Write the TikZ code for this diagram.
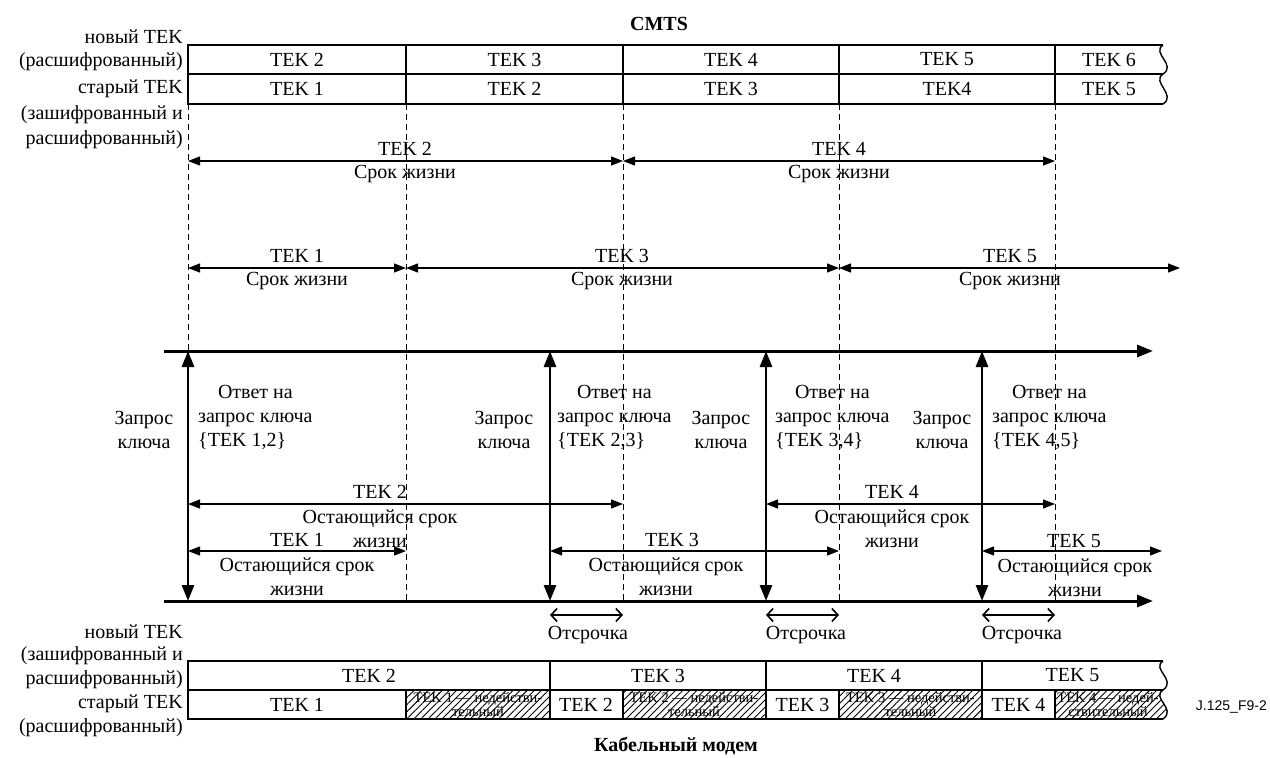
\documentclass[tikz,border=0pt]{standalone}
\usepackage{fontspec}
\setmainfont{Liberation Serif}
\newfontfamily\labelsans{Liberation Sans}
\usetikzlibrary{arrows.meta,patterns.meta}
\begin{document}
\begin{tikzpicture}[x=1pt,y=-1pt,
  lbl/.style={inner sep=0pt,font=\fontsize{20}{24}\selectfont,align=center},
  lblr/.style={lbl,anchor=east,align=right},
  tbl/.style={line width=1.4pt},
  guide/.style={line width=0.9pt,dash pattern=on 6pt off 4pt},
  life/.style={line width=1.2pt,{Triangle[length=12pt,width=9pt]}-{Triangle[length=12pt,width=9pt]}},
  timeaxis/.style={line width=3pt,-{Triangle[length=16pt,width=12pt]}},
  req/.style={line width=2.8pt,{Triangle[length=16pt,width=12pt]}-{Triangle[length=16pt,width=12pt]}},
  grace/.style={line width=1.6pt,{Straight Barb[length=6pt,width=13pt]}-{Straight Barb[length=6pt,width=13pt]}},
  hatch/.style={pattern={Lines[angle=45,distance=5pt,line width=0.9pt]}},
  hatchtext/.style={inner sep=0pt,font=\fontsize{14.5}{13.5}\selectfont,align=center},
  titletext/.style={inner sep=0pt,font=\bfseries\fontsize{20}{24}\selectfont},
  resp/.style={lbl,anchor=west},
]
\path[use as bounding box] (0,0) rectangle (1270,758);

% time marks (x)
\coordinate (T0) at (188,0);
\coordinate (T1) at (406,0);
\coordinate (T2) at (623,0);
\coordinate (T3) at (839,0);
\coordinate (T4) at (1055,0);
\coordinate (R1) at (550,0);
\coordinate (R2) at (766,0);
\coordinate (R3) at (982,0);
\coordinate (W)  at (1163,0);
\coordinate (E5) at (1162,0);
\coordinate (F5) at (1180,0);
\coordinate (AXs) at (164,0);
\coordinate (AXe) at (1153,0);
% rows (y)
\coordinate (ct) at (0,45);
\coordinate (cm) at (0,74);
\coordinate (cb) at (0,104);
\coordinate (L1) at (0,161);
\coordinate (L2) at (0,268);
\coordinate (A1) at (0,351);
\coordinate (A2) at (0,601);
\coordinate (M1) at (0,504);
\coordinate (M2) at (0,551);
\coordinate (G)  at (0,615);
\coordinate (kt) at (0,661);
\coordinate (km) at (0,690);
\coordinate (kb) at (0,719);

% ---------- CMTS table ----------
\node[titletext] (cmts) at (659,24) {CMTS};
\draw[tbl] (W|-ct) -- (T0|-ct) -- (T0|-cb) -- (W|-cb);
\draw[tbl] (T0|-cm) -- (W|-cm);
\foreach \c in {T1,T2,T3,T4} \draw[tbl] (\c|-ct) -- (\c|-cb);
\draw[tbl] (1163,45) .. controls (1151,53) and (1177,65) .. (1163,74)
                     .. controls (1151,82) and (1177,95) .. (1163,104);

\node[lbl] (c12) at (297,59.5)   {TEK 2};
\node[lbl] (c13) at (514.5,59.5) {TEK 3};
\node[lbl] (c14) at (731,59.5)   {TEK 4};
\node[lbl] (c15) at (947,59.5)   {TEK 5};
\node[lbl] (c16) at (1109,59.5)  {TEK 6};
\node[lbl] (c21) at (297,89)     {TEK 1};
\node[lbl] (c22) at (514.5,89)   {TEK 2};
\node[lbl] (c23) at (731,89)     {TEK 3};
\node[lbl] (c24) at (947,89)     {TEK4};
\node[lbl] (c25) at (1109,89)    {TEK 5};

\node[lblr] (tl1) at (183,37)  {новый TEK};
\node[lblr] (tl2) at (183,62)  {(расшифрованный)};
\node[lblr] (tl3) at (183,89)  {старый TEK};
\node[lblr] (tl4) at (183,115) {(зашифрованный и};
\node[lblr] (tl5) at (183,140) {расшифрованный)};

% ---------- guides ----------
\draw[guide] (T0|-cb) -- (T0|-A1);
\foreach \c in {T1,T2,T3,T4} \draw[guide] (\c|-cb) -- (\c|-A2);

% ---------- lifetimes ----------
\draw[life] (T0|-L1) -- (T2|-L1);
\draw[life] (T2|-L1) -- (T4|-L1);
\node[lbl] (lt2a) at (405,149) {TEK 2};
\node[lbl] (lt2b) at (405,174) {Срок жизни};
\node[lbl] (lt4a) at (839,149) {TEK 4};
\node[lbl] (lt4b) at (839,174) {Срок жизни};

\draw[life] (T0|-L2) -- (T1|-L2);
\draw[life] (T1|-L2) -- (T3|-L2);
\draw[life] (T3|-L2) -- (F5|-L2);
\node[lbl] (lt1a) at (297,256) {TEK 1};
\node[lbl] (lt1b) at (297,281) {Срок жизни};
\node[lbl] (lt3a) at (622,256) {TEK 3};
\node[lbl] (lt3b) at (622,281) {Срок жизни};
\node[lbl] (lt5a) at (1010,256) {TEK 5};
\node[lbl] (lt5b) at (1010,281) {Срок жизни};

% ---------- timelines ----------
\draw[timeaxis] (AXs|-A1) -- (AXe|-A1);
\draw[timeaxis] (AXs|-A2) -- (AXe|-A2);

\draw[req] (T0|-A1) -- (T0|-A2);
\draw[req] (R1|-A1) -- (R1|-A2);
\draw[req] (R2|-A1) -- (R2|-A2);
\draw[req] (R3|-A1) -- (R3|-A2);

\node[lbl] (q1) at (144,429.5) {Запрос\\ключа};
\node[lbl] (q2) at (504,429.5) {Запрос\\ключа};
\node[lbl] (q3) at (721,429.5) {Запрос\\ключа};
\node[lbl] (q4) at (942,429.5) {Запрос\\ключа};

\node[resp] (a1) at (198,418) {\begin{tabular}{@{}l@{}}\multicolumn{1}{@{}c@{}}{Ответ на}\\запрос ключа\\\{TEK 1,2\}\end{tabular}};
\node[resp] (a2) at (557,418) {\begin{tabular}{@{}l@{}}\multicolumn{1}{@{}c@{}}{Ответ на}\\запрос ключа\\\{TEK 2,3\}\end{tabular}};
\node[resp] (a3) at (775,418) {\begin{tabular}{@{}l@{}}\multicolumn{1}{@{}c@{}}{Ответ на}\\запрос ключа\\\{TEK 3,4\}\end{tabular}};
\node[resp] (a4) at (992,418) {\begin{tabular}{@{}l@{}}\multicolumn{1}{@{}c@{}}{Ответ на}\\запрос ключа\\\{TEK 4,5\}\end{tabular}};

% remaining lifetimes
\draw[life] (T0|-M1) -- (T2|-M1);
\node[lbl] (r2a) at (380,492) {TEK 2};
\node[lbl] (r2b) at (380,528.5) {Остающийся срок\\жизни};
\draw[life] (R2|-M1) -- (T4|-M1);
\node[lbl] (r4a) at (892,492) {TEK 4};
\node[lbl] (r4b) at (892,528.5) {Остающийся срок\\жизни};

\draw[life] (T0|-M2) -- (T1|-M2);
\node[lbl] (r1a) at (297,540) {TEK 1};
\node[lbl] (r1b) at (297,577) {Остающийся срок\\жизни};
\draw[life] (R1|-M2) -- (T3|-M2);
\node[lbl] (r3a) at (672,540) {TEK 3};
\node[lbl] (r3b) at (666,577) {Остающийся срок\\жизни};
\draw[life] (R3|-M2) -- (E5|-M2);
\node[lbl] (r5a) at (1074,541) {TEK 5};
\node[lbl] (r5b) at (1075,578) {Остающийся срок\\жизни};

% grace periods
\draw[grace] (R1|-G) -- (T2|-G);
\draw[grace] (R2|-G) -- (T3|-G);
\draw[grace] (R3|-G) -- (T4|-G);
\node[lbl] (g1) at (588,635) {Отсрочка};
\node[lbl] (g2) at (806,635) {Отсрочка};
\node[lbl] (g3) at (1022,635) {Отсрочка};

% ---------- cable modem table ----------
\fill[hatch] (T1|-km) rectangle (R1|-kb);
\fill[hatch] (T2|-km) rectangle (R2|-kb);
\fill[hatch] (T3|-km) rectangle (R3|-kb);
\fill[hatch] (1055,690) -- (1163,690) .. controls (1151,698) and (1177,709) .. (1163,719) -- (1055,719) -- cycle;

\node[hatchtext] (h1) at (478,704.5)  {TEK 1 — недействи-\\тельный};
\node[hatchtext] (h2) at (694,704.5)  {TEK 2 — недействи-\\тельный};
\node[hatchtext] (h3) at (910.5,704.5) {TEK 3 — недействи-\\тельный};
\node[hatchtext] (h4) at (1108,704.5) {TEK 4 — недей-\\ствительный};

\draw[tbl] (W|-kt) -- (T0|-kt) -- (T0|-kb) -- (W|-kb);
\draw[tbl] (T0|-km) -- (W|-km);
\foreach \c in {R1,R2,R3} \draw[tbl] (\c|-kt) -- (\c|-kb);
\foreach \c in {T1,T2,T3,T4} \draw[tbl] (\c|-km) -- (\c|-kb);
\draw[tbl] (1163,661) .. controls (1151,669) and (1177,680) .. (1163,690)
                     .. controls (1151,698) and (1177,709) .. (1163,719);

\node[lbl] (k12) at (369,675.5)    {TEK 2};
\node[lbl] (k13) at (658,675.5)    {TEK 3};
\node[lbl] (k14) at (874,675.5)    {TEK 4};
\node[lbl] (k15) at (1072.5,675.5) {TEK 5};
\node[lbl] (k21) at (297,704.5)    {TEK 1};
\node[lbl] (k22) at (586,704.5)    {TEK 2};
\node[lbl] (k23) at (802.5,704.5)  {TEK 3};
\node[lbl] (k24) at (1018.5,704.5) {TEK 4};

\node[lblr] (bl1) at (183,632) {новый TEK};
\node[lblr] (bl2) at (183,656) {(зашифрованный и};
\node[lblr] (bl3) at (183,680) {расшифрованный)};
\node[lblr] (bl4) at (183,704) {старый TEK};
\node[lblr] (bl5) at (183,728) {(расшифрованный)};

\node[inner sep=0pt,anchor=east,font=\labelsans\fontsize{14}{16}\selectfont] (fig) at (1267,707) {J.125\_F9-2};
\node[titletext] (cm) at (676,746) {Кабельный модем};
\end{tikzpicture}
\end{document}
